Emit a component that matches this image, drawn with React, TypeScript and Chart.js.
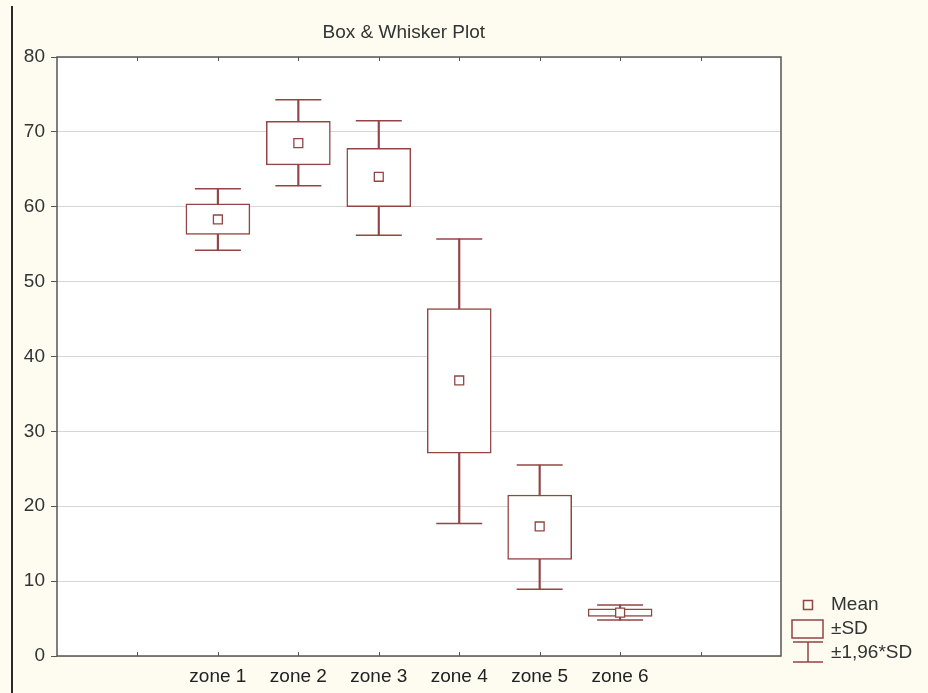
import React, { useEffect, useRef } from "react";
import { Chart, registerables } from "chart.js";

Chart.register(...registerables);

// ---- data ----
const zones = ["zone 1", "zone 2", "zone 3", "zone 4", "zone 5", "zone 6"];
const zonePositions = [2, 3, 4, 5, 6, 7];
const means = [58.3, 68.5, 64.0, 36.8, 17.3, 5.8];
const sdLow = [56.3, 65.6, 60.0, 27.1, 12.9, 5.3];
const sdHigh = [60.4, 71.4, 67.8, 46.4, 21.5, 6.3];
const ciLow = [54.2, 62.8, 56.2, 17.7, 8.9, 4.8];
const ciHigh = [62.4, 74.3, 71.5, 55.7, 25.5, 6.8];
const yMin = 0;
const yMax = 80;
const yStep = 10;
const xMin = 0;
const xMax = 9;
const titleText = "Box & Whisker Plot";
const legendLabels = ["Mean", "±SD", "±1,96*SD"];

const MARK = "#934444";
const CREAM = "#fefcf1";
const TEXT = "#333333";
const FONT_FAMILY = '"Liberation Sans", Arial, sans-serif';

const decorPlugin = {
  id: "decor",
  beforeDraw(chart: any) {
    const { ctx, width, height, chartArea: a } = chart;
    ctx.save();
    ctx.fillStyle = CREAM;
    ctx.fillRect(0, 0, width, height);
    ctx.fillStyle = "#ffffff";
    ctx.fillRect(a.left, a.top, a.right - a.left, a.bottom - a.top);
    ctx.strokeStyle = "#2a2a2a";
    ctx.lineWidth = 2;
    ctx.beginPath();
    ctx.moveTo(12, 6);
    ctx.lineTo(12, height);
    ctx.stroke();
    ctx.restore();
  },
  afterDraw(chart: any) {
    const { ctx, chartArea: a } = chart;
    const xs = chart.scales.x;
    ctx.save();
    // frame
    ctx.strokeStyle = "#555555";
    ctx.lineWidth = 1.5;
    ctx.strokeRect(a.left, a.top, a.right - a.left, a.bottom - a.top);
    // inward x ticks
    ctx.lineWidth = 1;
    ctx.beginPath();
    for (let v = xMin + 1; v < xMax; v++) {
      const px = Math.round(xs.getPixelForValue(v)) + 0.5;
      ctx.moveTo(px, a.bottom);
      ctx.lineTo(px, a.bottom - 4);
      ctx.moveTo(px, a.top);
      ctx.lineTo(px, a.top + 4);
    }
    ctx.stroke();
    // title
    ctx.fillStyle = TEXT;
    ctx.font = `19px ${FONT_FAMILY}`;
    ctx.textAlign = "center";
    ctx.textBaseline = "middle";
    ctx.fillText(titleText, a.left + (a.right - a.left) * 0.479, a.top - 24);
    // legend
    const cx = a.right + 27;
    const rows = [a.bottom - 51, a.bottom - 27, a.bottom - 3];
    ctx.strokeStyle = MARK;
    ctx.lineWidth = 1.5;
    ctx.strokeRect(cx - 4.5, rows[0] - 4.5, 9, 9);
    ctx.strokeRect(a.right + 11, rows[1] - 9, 31, 18);
    ctx.beginPath();
    ctx.moveTo(a.right + 12, rows[2] - 11);
    ctx.lineTo(a.right + 42, rows[2] - 11);
    ctx.moveTo(cx, rows[2] - 11);
    ctx.lineTo(cx, rows[2] + 9);
    ctx.moveTo(a.right + 12, rows[2] + 9);
    ctx.lineTo(a.right + 42, rows[2] + 9);
    ctx.stroke();
    ctx.fillStyle = TEXT;
    ctx.textAlign = "left";
    legendLabels.forEach((t, i) => ctx.fillText(t, a.right + 50, rows[i]));
    ctx.restore();
  },
};

export default function App() {
  const ref = useRef<HTMLCanvasElement | null>(null);

  useEffect(() => {
    document.body.style.margin = "0";
    const canvas = ref.current;
    if (!canvas) return;

    const stemData = zonePositions.map((x, i) => ({ x, y: [ciLow[i], ciHigh[i]] }));
    const boxData = zonePositions.map((x, i) => ({ x, y: [sdLow[i], sdHigh[i]] }));
    const capData = zonePositions
      .map((x, i) => ({ x, y: ciHigh[i] }))
      .concat(zonePositions.map((x, i) => ({ x, y: ciLow[i] })));
    const meanData = zonePositions.map((x, i) => ({ x, y: means[i] }));

    const chart = new Chart(canvas, {
      type: "bar",
      data: {
        datasets: [
          {
            label: "stems",
            data: stemData as any,
            backgroundColor: MARK,
            borderWidth: 0,
            barThickness: 1.5,
            grouped: false,
            order: 4,
          },
          {
            label: "±SD",
            data: boxData as any,
            backgroundColor: "#ffffff",
            borderColor: MARK,
            borderWidth: 1.5,
            borderSkipped: false,
            barThickness: 64,
            grouped: false,
            order: 3,
          },
          {
            type: "scatter",
            label: "caps",
            data: capData,
            pointStyle: "line",
            pointRadius: 23,
            borderColor: MARK,
            borderWidth: 1.5,
            order: 2,
          } as any,
          {
            type: "scatter",
            label: "Mean",
            data: meanData,
            pointStyle: "rect",
            pointRadius: 6.3,
            backgroundColor: "#ffffff",
            borderColor: MARK,
            borderWidth: 1.3,
            order: 1,
          } as any,
        ],
      },
      options: {
        animation: false,
        responsive: false,
        maintainAspectRatio: false,
        layout: { padding: { top: 57, right: 147, left: 0, bottom: 0 } },
        plugins: {
          legend: { display: false },
          title: { display: false },
          tooltip: { enabled: false },
        },
        scales: {
          x: {
            type: "linear",
            min: xMin,
            max: xMax,
            offset: false,
            grid: { display: false, drawTicks: false },
            border: { display: false },
            afterFit: (s: any) => {
              s.height = 37;
            },
            afterBuildTicks: (s: any) => {
              s.ticks = zonePositions.map((v) => ({ value: v }));
            },
            ticks: {
              autoSkip: false,
              maxRotation: 0,
              padding: 9,
              color: "#222222",
              font: { size: 19, family: FONT_FAMILY },
              callback: (v: any) => {
                const i = zonePositions.indexOf(Number(v));
                return i >= 0 ? zones[i] : "";
              },
            },
          },
          y: {
            type: "linear",
            min: yMin,
            max: yMax,
            afterFit: (s: any) => {
              s.width = 57;
            },
            grid: {
              color: "#d6d6d6",
              lineWidth: 1,
              borderDash: [1, 2],
              drawTicks: true,
              tickLength: 6,
              tickColor: "#555555",
              tickBorderDash: [],
            } as any,
            border: { display: false },
            ticks: {
              stepSize: yStep,
              padding: 6,
              color: TEXT,
              font: { size: 19, family: FONT_FAMILY },
            },
          },
        },
      },
      plugins: [decorPlugin],
    });

    return () => chart.destroy();
  }, []);

  return (
    <div style={{ width: 928, height: 693 }}>
      <canvas ref={ref} width={928} height={693} style={{ display: "block" }} />
    </div>
  );
}
